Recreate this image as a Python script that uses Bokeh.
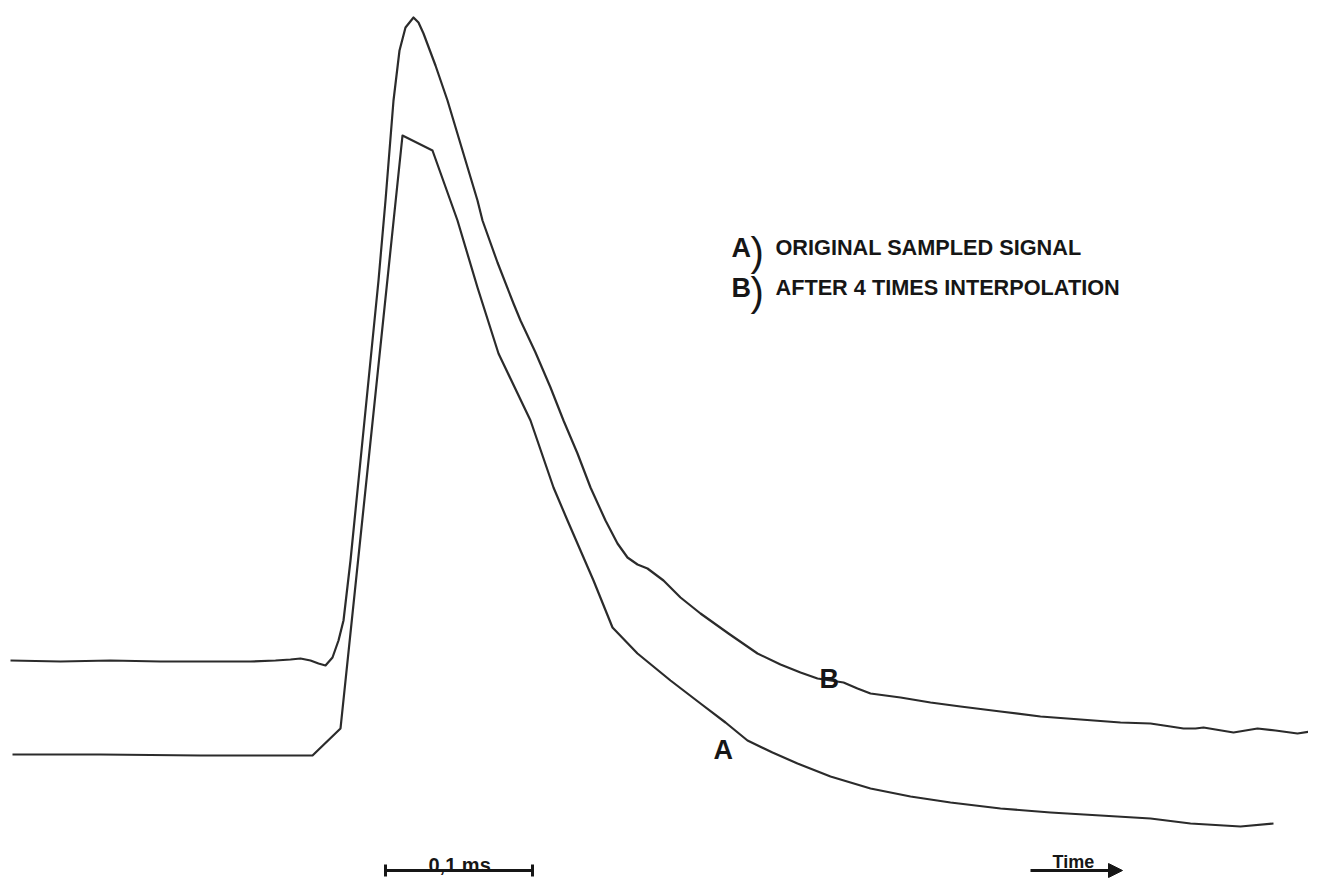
from bokeh.plotting import figure
from bokeh.models import Range1d, Label, Arrow, TeeHead, NormalHead
from bokeh.embed import file_html
from bokeh.resources import INLINE

# ---- data (arbitrary time / amplitude units) ----
time_b = [10, 60, 110, 160, 210, 250, 275, 290, 300, 310, 318, 325, 332, 338, 343,
          350, 360, 370, 378, 385, 393, 399, 405, 413, 418, 423, 435, 447, 462, 477,
          482, 497, 513, 520, 535, 550, 563, 577, 590, 605, 617, 627, 637, 647, 655,
          663, 680, 700, 728, 757, 780, 800, 817, 830, 843, 857, 870, 900, 930, 960,
          1000, 1040, 1080, 1120, 1150, 1170, 1183, 1195, 1203, 1215, 1233, 1245, 1257,
          1275, 1297, 1317]
amp_b = [234, 233, 234, 233, 233, 233, 234, 235, 236, 234, 231, 229, 237, 254, 274,
         334, 434, 534, 614, 694, 794, 844, 867, 877, 872, 861, 829, 794, 744, 694,
         674, 632, 591, 574, 542, 507, 474, 441, 407, 374, 351, 337, 330, 326, 320,
         314, 297, 281, 261, 241, 230, 222, 216, 214, 212, 206, 201, 197, 192, 188,
         183, 178, 175, 172, 171, 168, 166, 166, 167, 165, 162, 164, 166, 164, 161, 164]

time_a = [12, 100, 200, 312, 340, 402, 432, 457, 477, 498, 530, 553, 567, 593, 612,
          637, 670, 700, 725, 747, 772, 797, 830, 870, 910, 950, 1000, 1050, 1100,
          1150, 1190, 1240, 1273]
amp_a = [140, 140, 139, 139, 166, 759, 744, 674, 607, 541, 474, 407, 374, 314, 267,
         241, 214, 191, 172, 154, 142, 131, 118, 106, 98, 92, 86, 82, 79, 76, 71, 68, 71]

legend_keys = ["A", "B"]
legend_texts = ["ORIGINAL SAMPLED SIGNAL", "AFTER 4 TIMES INTERPOLATION"]
scale_label = "0,1 ms"
time_label = "Time"

FONT = "Liberation Sans"
INK = "#161616"
LINE = "#2b2b2b"

p = figure(width=1308, height=878, x_range=Range1d(0, 1308), y_range=Range1d(16, 894),
           output_backend="svg", toolbar_location=None, min_border=0,
           x_axis_location=None, y_axis_location=None)
p.grid.visible = False
p.outline_line_color = None
p.background_fill_color = "white"
p.border_fill_color = "white"

p.line(time_b, amp_b, line_color=LINE, line_width=2.2, line_join="round")
p.line(time_a, amp_a, line_color=LINE, line_width=2.2, line_join="round")

# legend block
rows_y = [647, 607]
for key, txt, yy in zip(legend_keys, legend_texts, rows_y):
    p.add_layout(Label(x=731, y=yy, text=key, text_font=FONT, text_font_size="27px",
                       text_font_style="bold", text_color=INK, text_baseline="alphabetic"))
    p.add_layout(Label(x=750, y=yy - 4, text=")", text_font=FONT, text_font_size="40px",
                       text_color=INK, text_baseline="alphabetic"))
    p.add_layout(Label(x=775, y=yy, text=txt, text_font=FONT, text_font_size="21.7px",
                       text_font_style="bold", text_color=INK, text_baseline="alphabetic"))

# curve labels
p.add_layout(Label(x=819, y=216, text="B", text_font=FONT, text_font_size="27px",
                   text_font_style="bold", text_color=INK, text_baseline="alphabetic"))
p.add_layout(Label(x=713, y=145, text="A", text_font=FONT, text_font_size="27px",
                   text_font_style="bold", text_color=INK, text_baseline="alphabetic"))

# scale bar
p.add_layout(Arrow(x_start=385, y_start=24, x_end=532, y_end=24, line_width=3, line_color=INK,
                   start=TeeHead(size=12, line_width=3, line_color=INK),
                   end=TeeHead(size=12, line_width=3, line_color=INK)))
p.add_layout(Label(x=428, y=30, text=scale_label, text_font=FONT, text_font_size="20px",
                   text_font_style="bold", text_color=INK, text_baseline="alphabetic"))

# time arrow
p.add_layout(Arrow(x_start=1030, y_start=24, x_end=1122, y_end=24, line_width=3, line_color=INK,
                   end=NormalHead(size=14, fill_color=INK, line_color=INK)))
p.add_layout(Label(x=1052, y=33, text=time_label, text_font=FONT, text_font_size="18px",
                   text_font_style="bold", text_color=INK, text_baseline="alphabetic"))

open("out.html", "w").write(file_html(p, INLINE))
